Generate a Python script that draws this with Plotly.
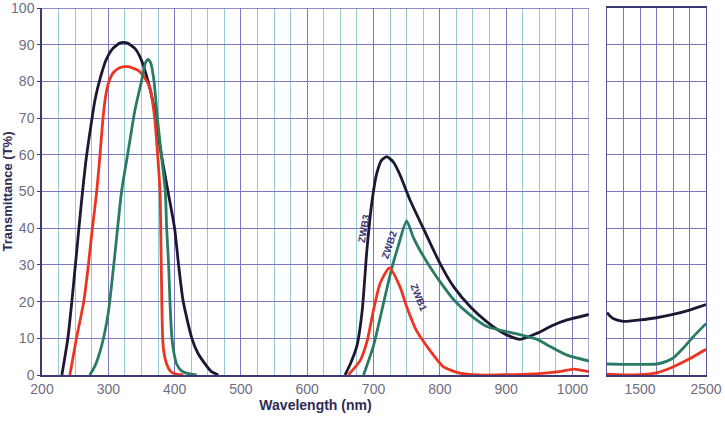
import plotly.graph_objects as go

# ---- data (wavelength nm, transmittance %) ----
zwb3_uv_x = [230, 239, 245, 253, 260, 266, 273, 280, 288, 297, 307, 318, 328, 340, 348, 360, 370, 380, 390, 400, 406, 413, 426, 435, 444, 455, 466]
zwb3_uv_y = [0, 10, 20, 35, 48, 58, 67, 75, 81, 86, 89, 90.5, 90.5, 89, 86.6, 80, 72, 60, 50, 40, 30, 20, 10, 6, 3.5, 1, 0]
zwb2_uv_x = [272, 280, 290, 300, 310, 320, 330, 340, 350, 356, 360, 364, 369, 374, 380, 386, 388, 391, 393, 396, 399, 403, 410, 418, 433]
zwb2_uv_y = [0, 2.5, 8, 17, 33, 50, 61, 72, 80, 85, 86, 85, 80, 70, 60, 50, 40, 30, 20, 10, 6, 3, 1.2, 0.5, 0]
zwb1_uv_x = [242, 252, 263, 270, 276, 282.5, 287.5, 292, 296, 301, 308, 318, 330, 345, 355, 363, 370, 374, 378, 379.5, 380.7, 382, 384, 388, 393, 398, 413]
zwb1_uv_y = [0, 10, 20, 30, 40, 50, 60, 70, 76, 80, 82.5, 83.8, 84, 83, 81, 78, 70, 61, 50, 35, 20, 10, 6, 3, 1.2, 0.5, 0]

zwb3_ir_x = [657, 665, 675, 683, 690, 698, 705, 712, 720, 730, 740, 755, 775, 800, 821, 846, 871, 896, 921, 947, 970, 992, 1025]
zwb3_ir_y = [0, 3, 8, 17.7, 34, 47.7, 55, 58.5, 59.5, 58, 54.5, 47.7, 40, 30.5, 24, 18.6, 14.5, 11.4, 9.7, 11.4, 13.5, 15, 16.5]
zwb2_ir_x = [685, 700, 715, 726, 737, 750, 760, 770, 785, 800, 821, 846, 871, 896, 921, 947, 962, 992, 1025]
zwb2_ir_y = [0, 8, 19.5, 28, 35, 42, 37.5, 34, 29.5, 25.5, 20.5, 16.3, 13.2, 12, 11, 9.7, 8.2, 5.4, 3.8]
zwb1_ir_x = [662, 680, 690, 700, 710, 724, 740, 750, 765, 781, 805, 830, 860, 900, 950, 980, 1002, 1025]
zwb1_ir_y = [0, 4, 9, 17.7, 25, 29.2, 24, 18.6, 12, 7.7, 2.3, 0.5, 0, 0.1, 0.4, 0.9, 1.6, 0.9]

zwb3_nir_x = [1000, 1050, 1100, 1250, 1500, 1750, 2000, 2250, 2500]
zwb3_nir_y = [17, 16, 15.3, 14.6, 15, 15.6, 16.5, 17.7, 19.2]
zwb2_nir_x = [1000, 1250, 1500, 1750, 1900, 2000, 2150, 2300, 2500]
zwb2_nir_y = [3, 2.9, 2.9, 3, 3.7, 4.6, 7.2, 10.3, 14]
zwb1_nir_x = [1000, 1250, 1500, 1750, 2000, 2250, 2500]
zwb1_nir_y = [0.2, 0, 0.1, 0.6, 2.2, 4.4, 7]

left_ticks = [200, 300, 400, 500, 600, 700, 800, 900, 1000]
right_ticks = [1500, 2500]
y_ticks = [0, 10, 20, 30, 40, 50, 60, 70, 80, 90, 100]

C3 = "#1d1733"
C2 = "#2b7a64"
C1 = "#ec3520"
W = 2.8

fig = go.Figure()

def add(x, y, c, xa="x", ya="y"):
    fig.add_trace(go.Scatter(x=x, y=y, mode="lines", line=dict(color=c, width=W, shape="spline", smoothing=0.6),
                             xaxis=xa, yaxis=ya, showlegend=False, hoverinfo="skip"))

add(zwb3_uv_x, zwb3_uv_y, C3)
add(zwb1_uv_x, zwb1_uv_y, C1)
add(zwb2_uv_x, zwb2_uv_y, C2)
add(zwb3_ir_x, zwb3_ir_y, C3)
add(zwb2_ir_x, zwb2_ir_y, C2)
add(zwb1_ir_x, zwb1_ir_y, C1)
add(zwb3_nir_x, zwb3_nir_y, C3, "x2", "y2")
add(zwb2_nir_x, zwb2_nir_y, C2, "x2", "y2")
add(zwb1_nir_x, zwb1_nir_y, C1, "x2", "y2")

FONT = "Liberation Sans Narrow, Arial Narrow, Liberation Sans, sans-serif"
tickfont = dict(family=FONT, size=14, color="#6e6e82")
GRID = "#7d78bd"
MINOR = "#97c9d3"

fig.update_layout(
    width=725, height=425,
    margin=dict(l=0, r=0, t=8, b=50),
    paper_bgcolor="white", plot_bgcolor="white",
    xaxis=dict(domain=[42/725, 589/725], range=[200, 1025], tickvals=left_ticks,
               showgrid=True, gridcolor=GRID, gridwidth=1,
               minor=dict(dtick=25, tick0=200, showgrid=True, gridcolor=MINOR, gridwidth=1),
               showline=True, linecolor="#3c3775", linewidth=1.5, mirror=False,
               ticks="", tickfont=tickfont, zeroline=False, automargin=False,
               title=dict(text="<b>Wavelength (nm)</b>", font=dict(family=FONT, size=14, color="#2e2a55"), standoff=4)),
    yaxis=dict(domain=[0, 1], range=[0, 100], tickvals=y_ticks, showgrid=True, gridcolor=GRID,
               showline=True, linecolor="#3c3775", linewidth=1.5, ticks="outside", ticklen=3, tickcolor="#3c3775",
               tickfont=tickfont, zeroline=False, automargin=False, ticklabeloverflow="allow",
               title=dict(text="<b>Transmittance (T%)</b>", font=dict(family=FONT, size=13, color="#2e2a55"), standoff=8)),
    xaxis2=dict(domain=[607/725, 706/725], range=[1000, 2500], tickvals=right_ticks, anchor="y2",
                showgrid=True, gridcolor=GRID,
                minor=dict(dtick=250, tick0=1000, showgrid=True, gridcolor=GRID, gridwidth=1),
                showline=True, linecolor="#3c3775", linewidth=1.5, mirror=True,
                ticks="", tickfont=tickfont, zeroline=False, automargin=False),
    yaxis2=dict(domain=[0, 1], range=[0, 100], anchor="x2", matches="y", tickvals=y_ticks, showgrid=True, gridcolor=GRID,
                showticklabels=False, showline=True, linecolor="#5a55a0", linewidth=1, mirror=True,
                zeroline=False, automargin=False),
)

# top border and right border of left panel
fig.add_shape(type="line", xref="x", yref="y", x0=200, x1=1025, y0=100, y1=100, line=dict(color="#6b66b5", width=1.5))
fig.add_shape(type="line", xref="x", yref="y", x0=1025, x1=1025, y0=0, y1=100, line=dict(color="#6b66b5", width=1))

lab = dict(family=FONT, size=10, color="#3b3570")
fig.add_annotation(x=685, y=40, xref="x", yref="y", text="<b>ZWB3</b>", showarrow=False, textangle=-80, font=lab)
fig.add_annotation(x=724, y=35.5, xref="x", yref="y", text="<b>ZWB2</b>", showarrow=False, textangle=-72, font=lab)
fig.add_annotation(x=768, y=21, xref="x", yref="y", text="<b>ZWB1</b>", showarrow=False, textangle=68, font=lab)

fig.write_html("out.html", config={"displayModeBar": False},
               post_script="document.body.style.margin='0';document.body.style.overflow='hidden';")
